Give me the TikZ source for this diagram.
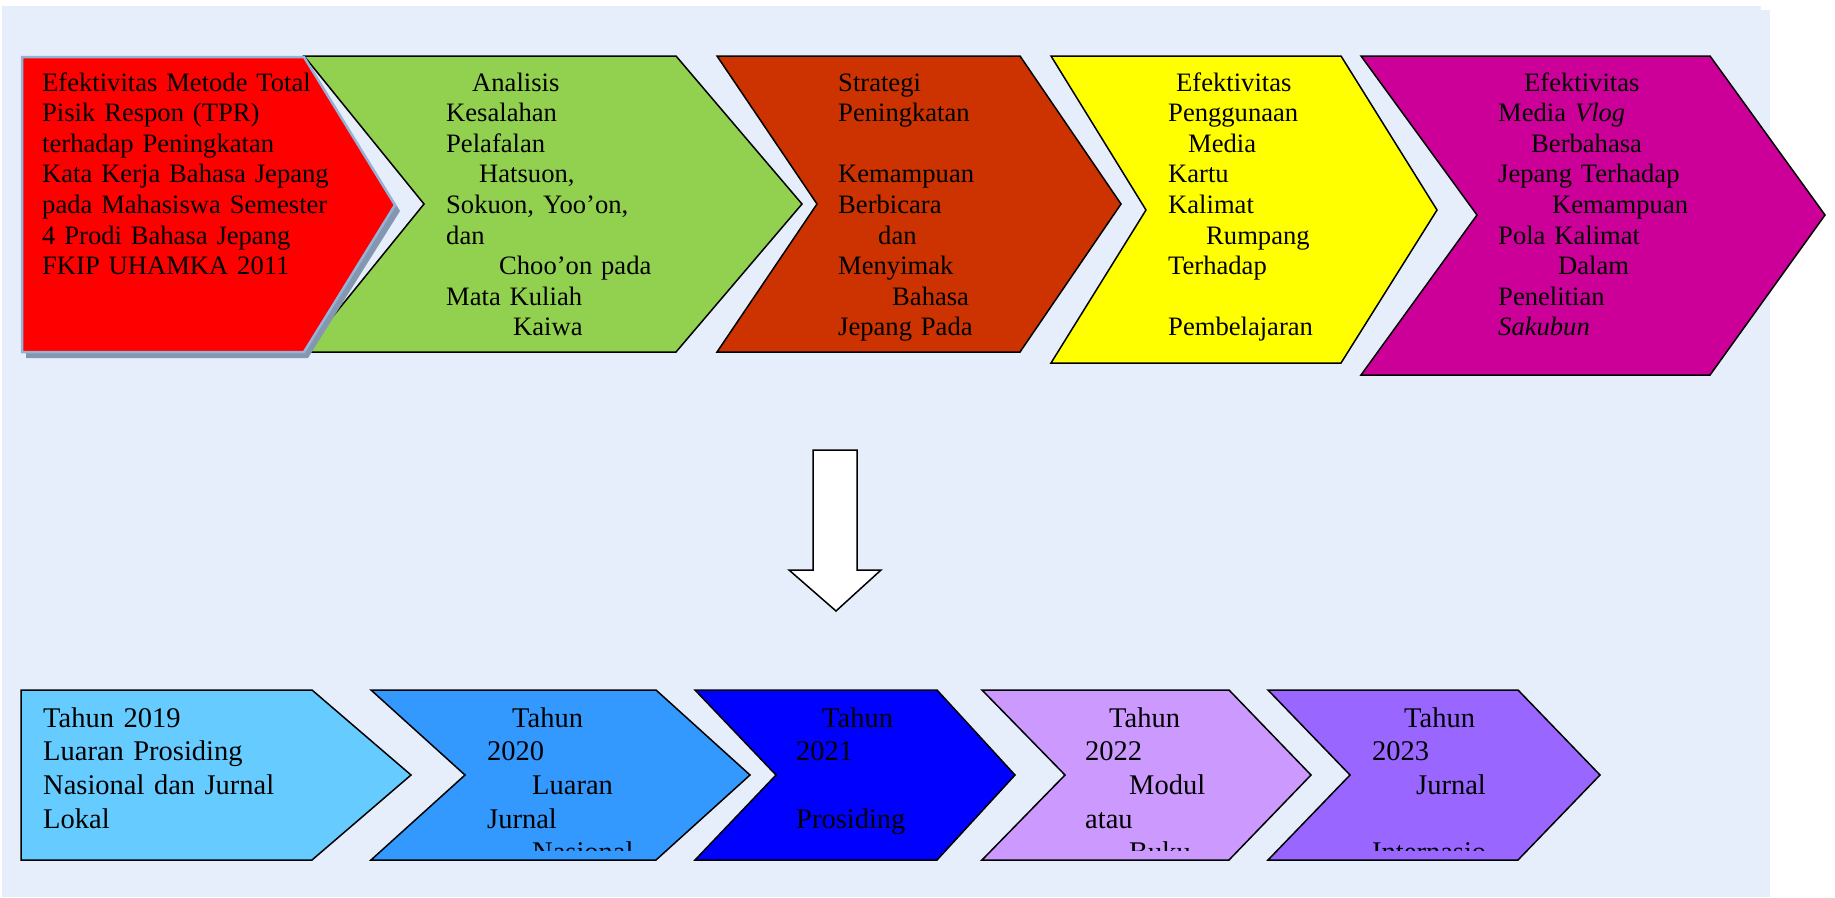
\documentclass[tikz,border=0pt]{standalone}
\usepackage{fontspec}
\setmainfont{Liberation Serif}
\definecolor{bgblue}{RGB}{231,238,251}
\definecolor{cgreen}{HTML}{92D050}
\definecolor{corange}{HTML}{CC3300}
\definecolor{cyellow}{HTML}{FFFF00}
\definecolor{cmagenta}{HTML}{CC0099}
\definecolor{ccyan}{HTML}{66CCFF}
\definecolor{cblue}{HTML}{3399FF}
\definecolor{cdeep}{HTML}{0000FF}
\definecolor{clilac}{HTML}{CC99FF}
\definecolor{cviolet}{HTML}{9966FF}
\definecolor{redline}{HTML}{95B3D7}
\definecolor{redshadow}{HTML}{8497B0}
\begin{document}
\begin{tikzpicture}[x=1pt,y=-1pt,
  chev/.style={draw=black, line width=1.5pt, line join=miter},
  toptext/.style={anchor=base west, inner sep=0pt, text width=340pt, align=left,
    font=\fontsize{26.6}{30.6}\selectfont},
  bottext/.style={anchor=base west, inner sep=0pt, text width=300pt, align=left,
    font=\fontsize{28.5}{33.7}\selectfont}]
\useasboundingbox (0,0) rectangle (1835,897);
\fill[white] (0,0) rectangle (1835,897);
\fill[bgblue] (2,6) rectangle (1761,897);
\fill[bgblue] (1761,10) rectangle (1770,897);

% top row shapes
\path[chev, fill=cgreen] (304,56) -- (676,56) -- (802,204) -- (676,352) -- (304,352) -- (424,204) -- cycle;
\fill[redshadow] (26,63) -- (308,63) -- (400,211) -- (308,358) -- (26,358) -- cycle;
\path[draw=redline, line width=2.5pt, fill=red, line join=miter] (22,57) -- (304,57) -- (395,205) -- (304,352) -- (22,352) -- cycle;
\path[chev, fill=corange] (717,56) -- (1020,56) -- (1121,204) -- (1020,352) -- (717,352) -- (817,204) -- cycle;
\path[chev, fill=cyellow] (1051,56) -- (1341,56) -- (1437,210) -- (1341,363) -- (1051,363) -- (1146,210) -- cycle;
\path[chev, fill=cmagenta] (1361,56) -- (1710,56) -- (1825,215) -- (1710,375) -- (1361,375) -- (1477,215) -- cycle;

% top row texts
\node[toptext] (t1) at (42,91) {Efektivitas Metode Total\\Pisik Respon (TPR)\\terhadap Peningkatan\\Kata Kerja Bahasa Jepang\\pada Mahasiswa Semester\\4 Prodi Bahasa Jepang\\FKIP UHAMKA 2011};
\node[toptext] (t2) at (446,91) {\hspace*{26pt}Analisis\\Kesalahan\\Pelafalan\\\hspace*{33pt}Hatsuon,\\Sokuon, Yoo’on,\\dan\\\hspace*{53pt}Choo’on pada\\Mata Kuliah\\\hspace*{67pt}Kaiwa};
\node[toptext] (t3) at (838,91) {Strategi\\Peningkatan\\\mbox{}\\Kemampuan\\Berbicara\\\hspace*{40pt}dan\\Menyimak\\\hspace*{54pt}Bahasa\\Jepang Pada};
\node[toptext] (t4) at (1168,91) {\hspace*{8pt}Efektivitas\\Penggunaan\\\hspace*{20pt}Media\\Kartu\\Kalimat\\\hspace*{38pt}Rumpang\\Terhadap\\\mbox{}\\Pembelajaran};
\node[toptext] (t5) at (1498,91) {\hspace*{26pt}Efektivitas\\Media \textit{Vlog}\\\hspace*{33pt}Berbahasa\\Jepang Terhadap\\\hspace*{54pt}Kemampuan\\Pola Kalimat\\\hspace*{60pt}Dalam\\Penelitian\\\textit{Sakubun}};

% arrow
\path[draw=black, line width=1.5pt, fill=white, line join=miter] (813,450) -- (857,450) -- (857,570) -- (881,570) -- (836,611) -- (789,570) -- (813,570) -- cycle;

% bottom row shapes
\path[chev, fill=ccyan] (21,690) -- (312,690) -- (411,775) -- (312,860) -- (21,860) -- cycle;
\path[chev, fill=cblue] (371,690) -- (656,690) -- (750,775) -- (656,860) -- (371,860) -- (465,775) -- cycle;
\path[chev, fill=cdeep] (695,690) -- (937,690) -- (1015,775) -- (937,860) -- (695,860) -- (776,775) -- cycle;
\path[chev, fill=clilac] (982,690) -- (1229,690) -- (1311,775) -- (1229,860) -- (982,860) -- (1065,775) -- cycle;
\path[chev, fill=cviolet] (1268,690) -- (1518,690) -- (1600,775) -- (1518,860) -- (1268,860) -- (1350,775) -- cycle;

% bottom row texts (clipped)
\begin{scope}
\clip (0,680) rectangle (1835,850);
\node[bottext] (b1) at (43,727) {Tahun 2019\\Luaran Prosiding\\Nasional dan Jurnal\\Lokal};
\node[bottext] (b2) at (487,727) {\hspace*{25pt}Tahun\\2020\\\hspace*{45pt}Luaran\\Jurnal\\\hspace*{45pt}Nasional};
\node[bottext] (b3) at (796,727) {\hspace*{26pt}Tahun\\2021\\\mbox{}\\Prosiding};
\node[bottext] (b4) at (1085,727) {\hspace*{24pt}Tahun\\2022\\\hspace*{44pt}Modul\\atau\\\hspace*{44pt}Buku};
\node[bottext] (b5) at (1372,727) {\hspace*{32pt}Tahun\\2023\\\hspace*{44pt}Jurnal\\\mbox{}\\Internasio};
\end{scope}
\end{tikzpicture}
\end{document}
